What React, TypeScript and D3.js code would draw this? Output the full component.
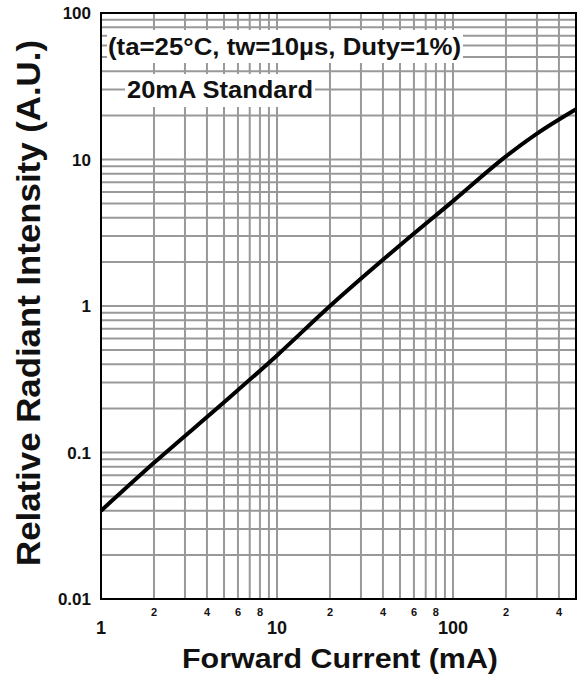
import React from 'react';
import * as d3 from 'd3';

// forward current (mA) vs relative radiant intensity
const currentMA = [1, 2, 5, 10, 20, 50, 100, 200, 300, 500];
const intensity = [0.04, 0.085, 0.22, 0.46, 1.0, 2.6, 5.2, 10.5, 15, 22];

const xMajorTicks = [1, 10, 100];
const xMinorLabels = [2, 4, 6, 8, 20, 40, 60, 80, 200, 400];
const yMajorTicks = [0.01, 0.1, 1, 10, 100];
const yTickLabels = ['0.01', '0.1', '1', '10', '100'];

const W = 578;
const H = 679;
const left = 101;
const right = 576;
const top = 13;
const bottom = 599;
const font = '"Liberation Sans", Arial, sans-serif';

export default function App() {
  const x = d3.scaleLog().domain([1, 500]).range([left, right]);
  const y = d3.scaleLog().domain([0.01, 100]).range([bottom, top]);

  // gridlines at 1..9 of every decade
  const xGrid: number[] = [];
  for (let p = 1; p <= 100; p *= 10) for (let k = 1; k < 10; k++) if (k * p <= 500) xGrid.push(k * p);
  const yGrid: number[] = [];
  for (let p = 0.01; p < 100; p *= 10) for (let k = 1; k < 10; k++) yGrid.push(+(k * p).toPrecision(3));

  const line = d3
    .line<number>()
    .x((d, i) => x(currentMA[i]))
    .y((d) => y(d))
    .curve(d3.curveMonotoneX);

  return (
    <svg width={W} height={H} style={{ position: 'absolute', left: 0, top: 0, background: '#fff' }}>
      <g stroke="#999" strokeWidth={2}>
        {xGrid.map((v) => (
          <line key={'x' + v} x1={x(v)} x2={x(v)} y1={top} y2={bottom} />
        ))}
        {yGrid.map((v) => (
          <line key={'y' + v} x1={left} x2={right} y1={y(v)} y2={y(v)} />
        ))}
      </g>

      {/* condition boxes hide the grid behind them */}
      <rect x={107} y={30} width={356} height={33} fill="#fff" />
      <text x={108} y={55} fontFamily={font} fontWeight="bold" fontSize={23} fill="#111" textLength={353} lengthAdjust="spacingAndGlyphs">
        (ta=25°C, tw=10µs, Duty=1%)
      </text>
      <rect x={125} y={74} width={190} height={33} fill="#fff" />
      <text x={127} y={98} fontFamily={font} fontWeight="bold" fontSize={23} fill="#111" textLength={186} lengthAdjust="spacingAndGlyphs">
        20mA Standard
      </text>

      <path d={line(intensity) || ''} fill="none" stroke="#000" strokeWidth={4} />

      <rect x={left} y={top} width={right - left} height={bottom - top} fill="none" stroke="#000" strokeWidth={2} />

      <g fontFamily={font} fontWeight="bold" fill="#111">
        {yMajorTicks.map((v, i) => (
          <text key={'yl' + v} x={91} y={y(v) + 6} fontSize={17} textAnchor="end">
            {yTickLabels[i]}
          </text>
        ))}
        {xMajorTicks.map((v) => (
          <text key={'xl' + v} x={x(v)} y={634} fontSize={18} textAnchor="middle">
            {v}
          </text>
        ))}
        {xMinorLabels.map((v) => (
          <text key={'xm' + v} x={x(v)} y={616} fontSize={11} textAnchor="middle">
            {String(v)[0]}
          </text>
        ))}
        <text x={182} y={668} fontSize={27} textLength={316} lengthAdjust="spacingAndGlyphs">
          Forward Current (mA)
        </text>
        <text
          transform="translate(40,566) rotate(-90)"
          fontSize={33}
          textLength={526}
          lengthAdjust="spacingAndGlyphs"
        >
          Relative Radiant Intensity (A.U.)
        </text>
      </g>
    </svg>
  );
}
